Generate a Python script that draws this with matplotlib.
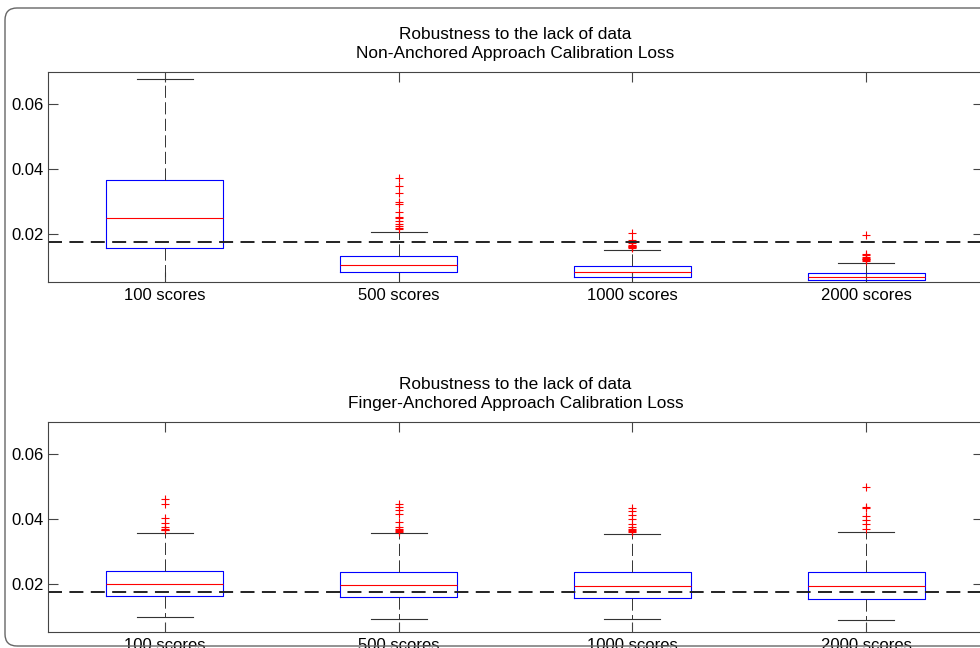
import matplotlib
matplotlib.use('Agg')
import matplotlib.pyplot as plt
from matplotlib.patches import FancyBboxPatch

plt.rcParams['font.family'] = ['Liberation Sans', 'DejaVu Sans']

# Box labels
labels = ['100 scores', '500 scores', '1000 scores', '2000 scores']

# Non-anchored approach (top panel)
non_med = [0.0249, 0.0104, 0.0081, 0.0067]
non_q1 = [0.0154, 0.0081, 0.0067, 0.0055]
non_q3 = [0.0366, 0.0131, 0.0101, 0.0079]
non_lo = [0.0020, 0.0030, 0.0030, 0.0020]
non_hi = [0.0677, 0.0204, 0.0150, 0.0108]
non_fliers = [
    [],
    [0.0371, 0.0346, 0.0327, 0.0298, 0.0291, 0.0268, 0.0252, 0.0247,
     0.0240, 0.0228, 0.0222, 0.0218, 0.0214],
    [0.0202, 0.0179, 0.0170, 0.0165, 0.0162, 0.0160, 0.0158, 0.0157, 0.0156],
    [0.0194, 0.0138, 0.0133, 0.0128, 0.0125, 0.0122, 0.0120, 0.0118, 0.0116],
]

# Finger-anchored approach (bottom panel)
fin_med = [0.0197, 0.0195, 0.0191, 0.0191]
fin_q1 = [0.0161, 0.0158, 0.0155, 0.0151]
fin_q3 = [0.0240, 0.0237, 0.0235, 0.0237]
fin_lo = [0.0096, 0.0089, 0.0089, 0.0086]
fin_hi = [0.0355, 0.0356, 0.0352, 0.0359]
fin_fliers = [
    [0.0462, 0.0447, 0.0404, 0.0386, 0.0376, 0.0368, 0.0366, 0.0365],
    [0.0445, 0.0437, 0.0427, 0.0415, 0.0389, 0.0375, 0.0370, 0.0366,
     0.0363, 0.0361],
    [0.0435, 0.0425, 0.0411, 0.0399, 0.0384, 0.0375, 0.0368, 0.0365,
     0.0362, 0.0360],
    [0.0498, 0.0437, 0.0433, 0.0409, 0.0398, 0.0384, 0.0368],
]

# Reference level (dashed line)
ref_loss = 0.0173

yticks = [0.02, 0.04, 0.06]


def make_stats(med, q1, q3, lo, hi, fliers):
    stats = []
    for i in range(len(labels)):
        stats.append({'med': med[i], 'q1': q1[i], 'q3': q3[i],
                      'whislo': lo[i], 'whishi': hi[i],
                      'fliers': fliers[i], 'label': labels[i]})
    return stats


def draw_panel(ax, stats, title):
    ax.bxp(stats, positions=range(1, len(labels) + 1), widths=0.5,
           boxprops=dict(color='blue', linewidth=0.8),
           medianprops=dict(color='red', linewidth=0.8),
           whiskerprops=dict(color='#333333', linewidth=0.7,
                             linestyle=(0, (12.5, 4.5))),
           capprops=dict(color='#333333', linewidth=0.8),
           capwidths=0.24,
           flierprops=dict(marker='+', markeredgecolor='red',
                           markersize=6, markeredgewidth=0.8))
    ax.axhline(ref_loss, color='#222222', linewidth=1.4,
               linestyle=(0, (7.2, 3.8)))
    ax.set_xlim(0.5, 4.5)
    ax.set_ylim(0.005, 0.07)
    ax.set_yticks(yticks)
    ax.set_yticklabels(['0.02', '0.04', '0.06'])
    ax.tick_params(direction='in', length=7, width=0.8, color='#444444',
                   top=True, right=True, labelsize=12)
    ax.tick_params(axis='y', pad=3)
    ax.tick_params(axis='x', pad=4)
    for sp in ax.spines.values():
        sp.set_color('#444444')
        sp.set_linewidth(0.8)
    ax.set_title(title, fontsize=12.4, pad=10, linespacing=1.38)


fig = plt.figure(figsize=(9.8, 6.48), dpi=100)

# Rounded outer frame like the original figure border
frame = FancyBboxPatch((0.05, 0.02), 10.2, 6.38,
                       boxstyle='round,pad=0,rounding_size=0.12',
                       transform=fig.dpi_scale_trans, facecolor='none',
                       edgecolor='#666666', linewidth=1.0)
fig.patches.append(frame)

ax1 = fig.add_axes([0.049, 0.5648, 0.9541, 0.3241])
ax2 = fig.add_axes([0.049, 0.0247, 0.9541, 0.3241])

draw_panel(ax1, make_stats(non_med, non_q1, non_q3, non_lo, non_hi, non_fliers),
           'Robustness to the lack of data\nNon-Anchored Approach Calibration Loss')
draw_panel(ax2, make_stats(fin_med, fin_q1, fin_q3, fin_lo, fin_hi, fin_fliers),
           'Robustness to the lack of data\nFinger-Anchored Approach Calibration Loss')

fig.savefig('out.png', dpi=100)
